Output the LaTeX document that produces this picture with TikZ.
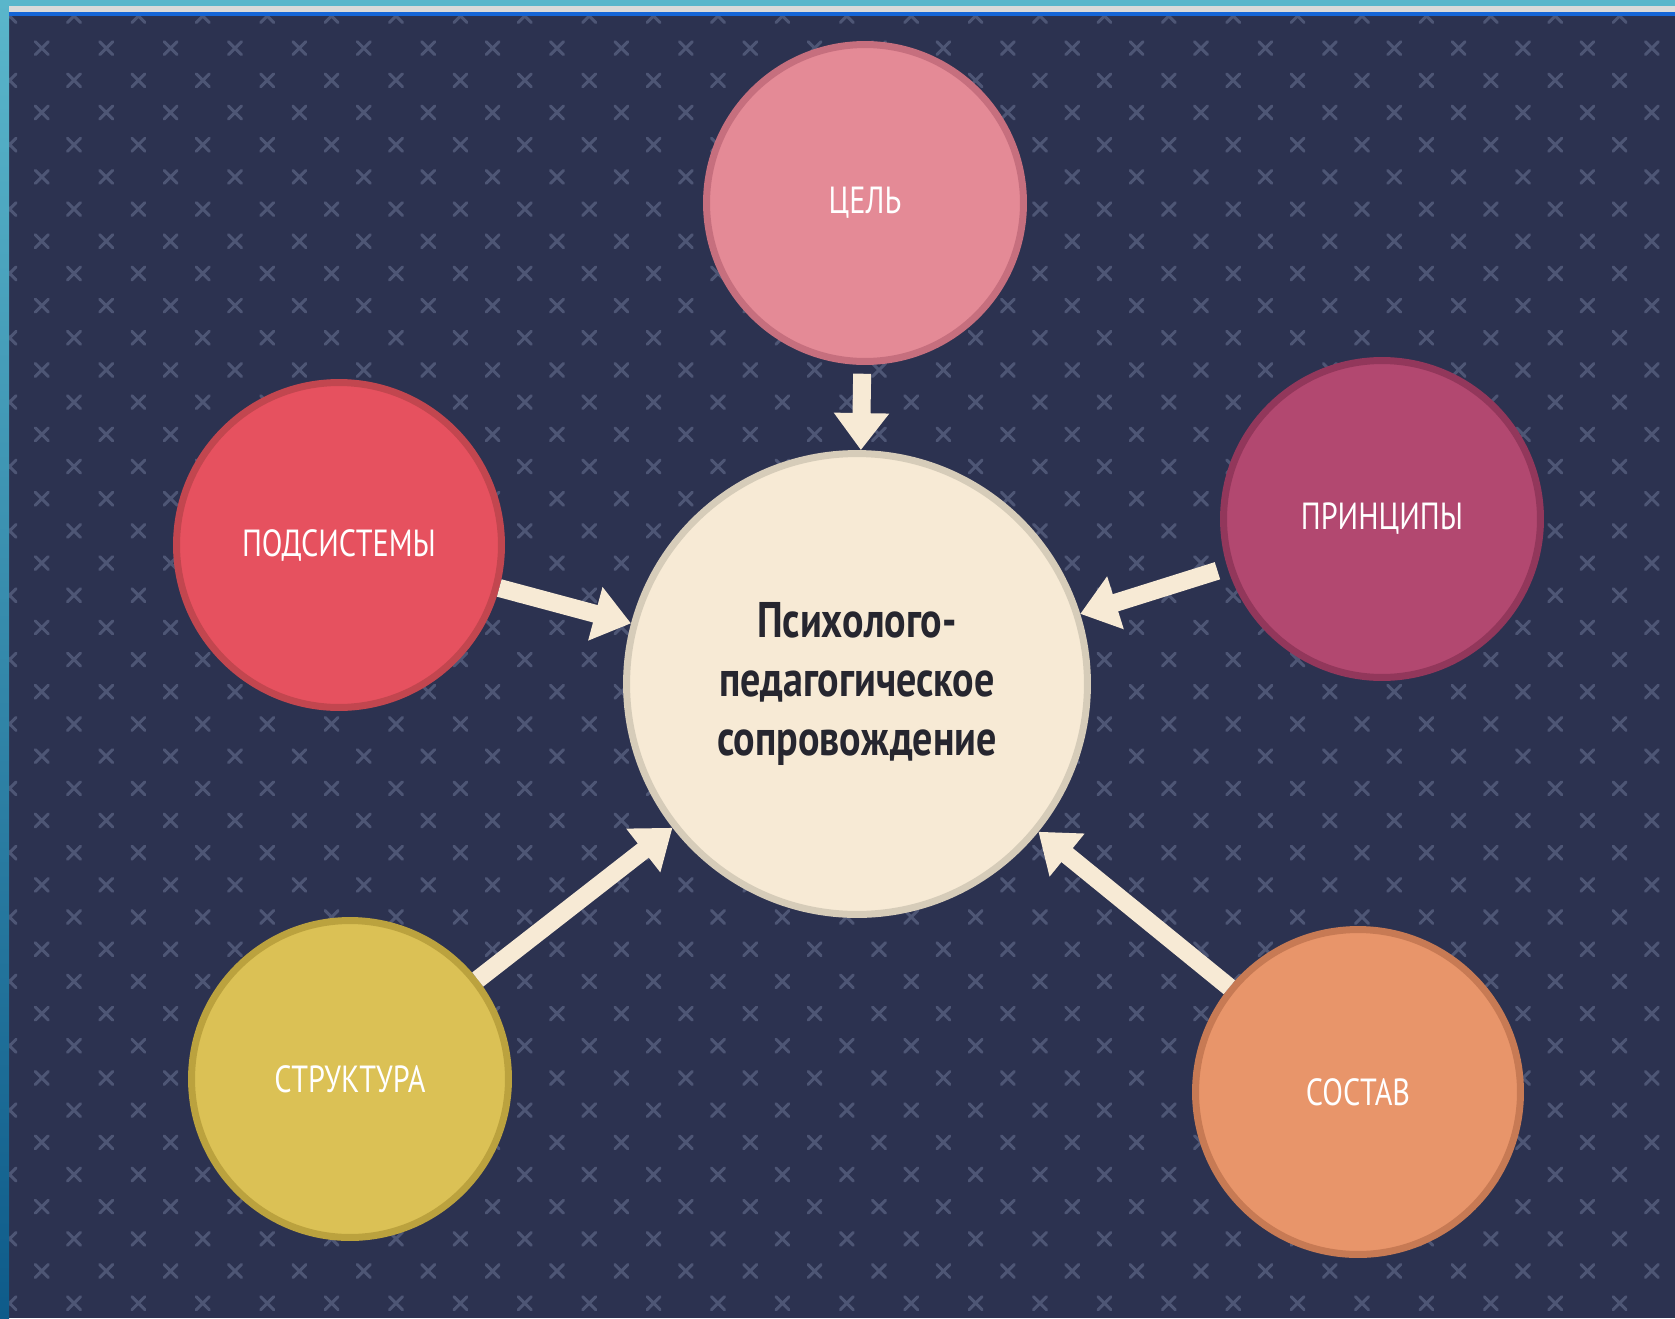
\documentclass[tikz,border=0pt]{standalone}
\usepackage{fontspec}
\setmainfont{PT Sans}[FakeStretch=0.8]
\usetikzlibrary{arrows.meta}

\definecolor{bgdark}{HTML}{2C3250}
\definecolor{crossgray}{HTML}{4E5675}
\definecolor{cream}{HTML}{F7EAD5}
\definecolor{creamline}{HTML}{D6CCB9}
\definecolor{textdark}{HTML}{26262F}
\definecolor{celfill}{HTML}{E48A96}
\definecolor{celline}{HTML}{C66F7E}
\definecolor{prinfill}{HTML}{B24870}
\definecolor{prinline}{HTML}{92375B}
\definecolor{podfill}{HTML}{E6515F}
\definecolor{podline}{HTML}{C2464F}
\definecolor{strfill}{HTML}{DBC155}
\definecolor{strline}{HTML}{BBA23E}
\definecolor{sosfill}{HTML}{E8956A}
\definecolor{sosline}{HTML}{C77A54}
\definecolor{frameteal}{HTML}{5AB6CB}
\definecolor{framedeep}{HTML}{0E5B8A}
\definecolor{framegray}{HTML}{DADADA}
\definecolor{frameblue}{HTML}{1565D6}

\begin{document}
\begin{tikzpicture}[x=0.02cm, y=-0.02cm,
  main/.style={circle, fill=cream, draw=creamline, line width=0.14cm,
    minimum size=9.22cm, inner sep=0pt, align=center, text=textdark,
    font=\bfseries\fontsize{28.5}{33.5}\selectfont},
  leaf/.style={circle, line width=0.14cm, minimum size=6.34cm,
    inner sep=0pt, text=white, font=\fontsize{21.5}{25}\selectfont},
  arr/.style={-{Triangle[width=1.06cm, length=0.74cm]}, line width=0.36cm, draw=cream},
  cross/.style={draw=crossgray, line width=0.06cm, line cap=round}]
  \useasboundingbox (0,0) rectangle (1675,1318);

  % background and frame
  \fill[bgdark] (0,0) rectangle (1675,1318);
  \begin{scope}
    \clip (9,16) rectangle (1675,1318);
    \foreach \r in {0,...,41}{
      \pgfmathsetmacro{\yy}{16+32.18*\r}
      \pgfmathsetmacro{\xo}{ifthenelse(mod(\r,2)==0,9.6,41.8)}
      \foreach \c in {0,...,26}
        \draw[cross] ({\xo+64.4*\c-6.5},{\yy-6.5}) -- ++(13,13) ++(0,-13) -- ++(-13,13);
    }
  \end{scope}
  \shade[top color=frameteal, bottom color=framedeep] (0,0) rectangle (9,1318);
  \fill[frameteal] (0,0) rectangle (1675,6);
  \fill[framegray] (9,6) rectangle (1675,12);
  \fill[frameblue] (9,12) rectangle (1675,16);

  % circles
  \node[main] (center) at (857,684) {Психолого-\\педагогическое\\сопровождение};
  \node[leaf, fill=celfill, draw=celline] (cel) at (865,203) {ЦЕЛЬ};
  \node[leaf, fill=prinfill, draw=prinline] (prin) at (1382,519) {ПРИНЦИПЫ};
  \node[leaf, fill=podfill, draw=podline, minimum size=6.5cm] (pod) at (339,545) {ПОДСИСТЕМЫ};
  \node[leaf, fill=strfill, draw=strline] (str) at (350,1079) {СТРУКТУРА};
  \node[leaf, fill=sosfill, draw=sosline, minimum size=6.5cm] (sos) at (1358,1092) {СОСТАВ};

  % arrows
  \draw[arr, shorten <=5] (cel) -- (center);
  \draw[arr, shorten <=6] (prin) -- (center);
  \draw[arr] (pod) -- (center);
  \draw[arr] (str) -- (center);
  \draw[arr] (sos) -- (center);
\end{tikzpicture}
\end{document}
